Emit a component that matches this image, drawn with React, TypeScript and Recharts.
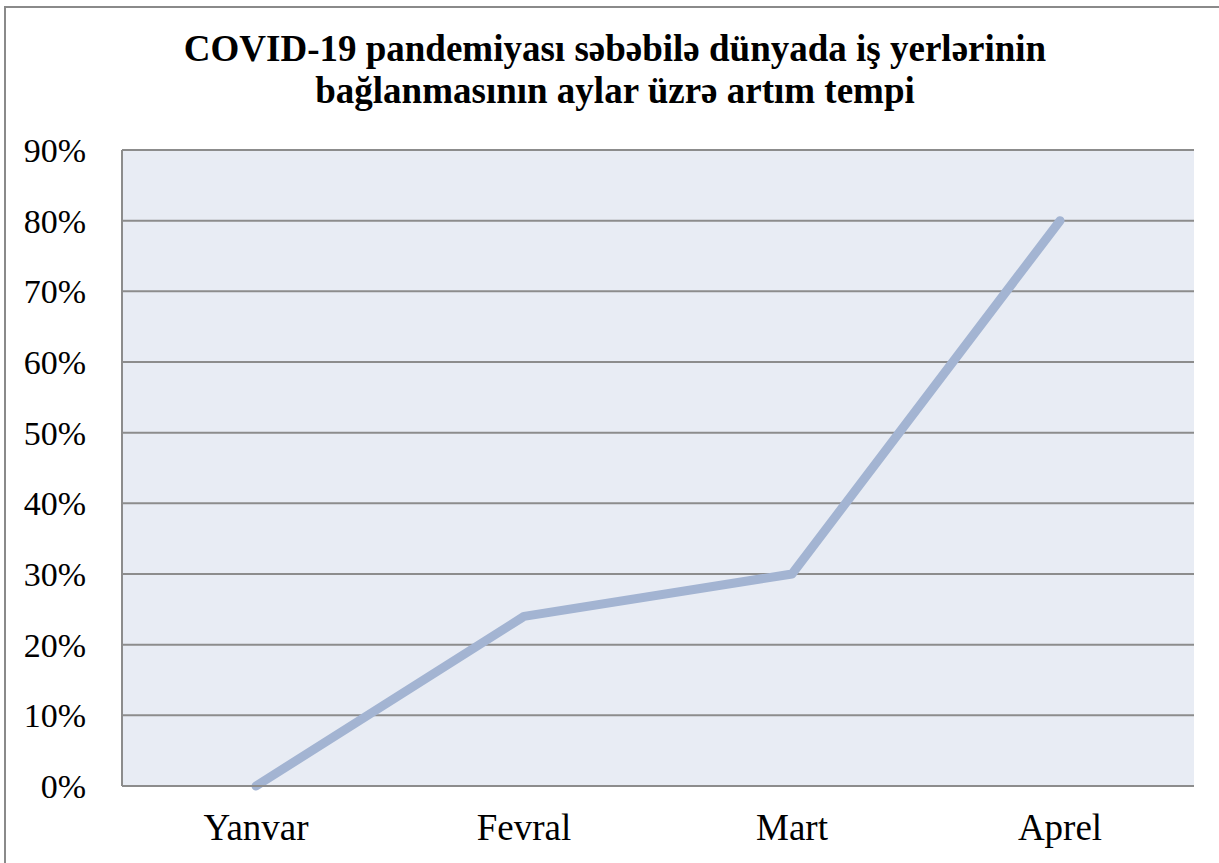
import React from 'react';
import { LineChart, Line, XAxis, YAxis, CartesianGrid } from 'recharts';

const months = ['Yanvar', 'Fevral', 'Mart', 'Aprel'];
const growth = [0, 24, 30, 80];
const yTicks = [0, 10, 20, 30, 40, 50, 60, 70, 80, 90];

const data = months.map((month, i) => ({ month, value: growth[i] }));

const FONT = '"Liberation Serif", "Times New Roman", serif';

const App: React.FC = () => {
  return (
    <div style={{ position: 'fixed', left: 0, top: 0, width: 1219, height: 863, overflow: 'hidden', background: '#fff' }}>
      <div
        style={{
          position: 'absolute',
          left: 4,
          top: 6,
          width: 1300,
          height: 900,
          borderLeft: '2px solid #8a8a8a',
          borderTop: '2px solid #8a8a8a',
          boxSizing: 'border-box'
        }}
      />
      <div
        style={{
          position: 'absolute',
          left: 0,
          top: 28,
          width: 1230,
          textAlign: 'center',
          fontFamily: FONT,
          fontWeight: 'bold',
          fontSize: 37,
          lineHeight: '42px',
          color: '#000'
        }}
      >
        COVID-19 pandemiyası səbəbilə dünyada iş yerlərinin
        <br />
        bağlanmasının aylar üzrə artım tempi
      </div>
      <div style={{ position: 'absolute', left: 0, top: 0 }}>
        <LineChart
          width={1219}
          height={863}
          data={data}
          margin={{ top: 150, right: 25, left: 0, bottom: 0 }}
        >
          <CartesianGrid vertical={false} fill="#e8ecf4" stroke="#8c8c8c" strokeWidth={2} />
          <XAxis
            dataKey="month"
            height={77}
            padding={{ left: 134, right: 134 }}
            tickLine={false}
            tickSize={0}
            tickMargin={28}
            axisLine={{ stroke: '#8c8c8c', strokeWidth: 2 }}
            tick={{ fill: '#000', fontSize: 37, fontFamily: FONT }}
          />
          <YAxis
            width={122}
            domain={[0, 90]}
            ticks={yTicks}
            interval={0}
            tickFormatter={(v) => `${v}%`}
            tickLine={false}
            tickSize={0}
            tickMargin={36}
            axisLine={{ stroke: '#8c8c8c', strokeWidth: 2 }}
            tick={{ fill: '#000', fontSize: 34, fontFamily: FONT }}
          />
          <Line
            type="linear"
            dataKey="value"
            stroke="#a3b4d2"
            strokeWidth={9}
            strokeLinecap="round"
            strokeLinejoin="round"
            dot={false}
            activeDot={false}
            isAnimationActive={false}
          />
        </LineChart>
      </div>
    </div>
  );
};

export default App;
